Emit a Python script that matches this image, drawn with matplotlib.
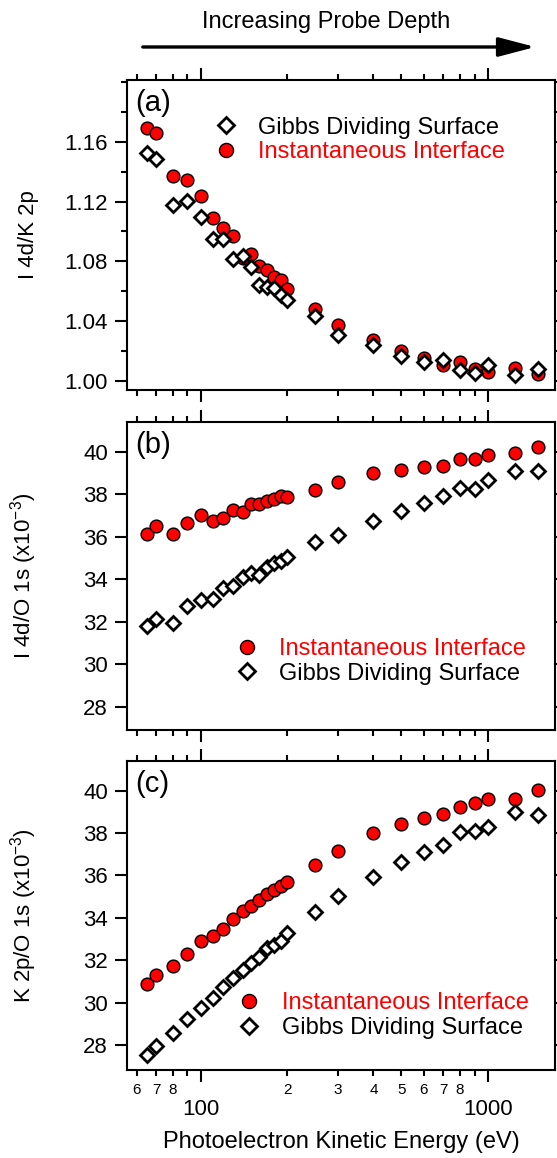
import numpy as np
import matplotlib
matplotlib.use("Agg")
import matplotlib.pyplot as plt
from matplotlib.ticker import LogLocator, FuncFormatter, MultipleLocator, NullFormatter, FixedLocator
from matplotlib.patches import FancyArrowPatch

plt.rcParams['font.family'] = ['Liberation Sans', 'DejaVu Sans']
plt.rcParams['mathtext.default'] = 'regular'

# photoelectron kinetic energy (eV)
energy = [65, 70, 80, 90, 100, 110, 120, 130, 140, 150, 160, 170, 180, 190, 200,
          250, 300, 400, 500, 600, 700, 800, 900, 1000, 1250, 1500]

# (a) I 4d / K 2p
a_inst = [1.1689, 1.1656, 1.1371, 1.1343, 1.1240, 1.1089, 1.1022, 1.0971, 1.0820, 1.0849,
          1.0767, 1.0745, 1.0696, 1.0673, 1.0616, 1.0482, 1.0378, 1.0273, 1.0204, 1.0156,
          1.0104, 1.0126, 1.0078, 1.0060, 1.0084, 1.0049]
a_gibbs = [1.1527, 1.1485, 1.1178, 1.1207, 1.1100, 1.0953, 1.0947, 1.0814, 1.0835, 1.0763,
           1.0642, 1.0629, 1.0625, 1.0578, 1.0545, 1.0433, 1.0311, 1.0240, 1.0167, 1.0130,
           1.0140, 1.0073, 1.0051, 1.0104, 1.0038, 1.0082]
a_ticks = [1.00, 1.04, 1.08, 1.12, 1.16]

# (b) I 4d / O 1s (x1e-3)
b_inst = [36.11, 36.52, 36.11, 36.66, 37.00, 36.75, 36.89, 37.24, 37.15, 37.54, 37.54,
          37.70, 37.76, 37.92, 37.89, 38.20, 38.56, 38.98, 39.15, 39.26, 39.31, 39.66,
          39.66, 39.83, 39.92, 40.20]
b_gibbs = [31.80, 32.14, 31.95, 32.74, 33.00, 33.05, 33.60, 33.68, 34.12, 34.28, 34.20,
           34.59, 34.78, 34.87, 35.06, 35.75, 36.09, 36.75, 37.21, 37.57, 37.93, 38.28,
           38.25, 38.67, 39.10, 39.10]

# (c) K 2p / O 1s (x1e-3)
c_inst = [30.88, 31.31, 31.75, 32.31, 32.92, 33.15, 33.49, 33.93, 34.34, 34.58, 34.84,
          35.11, 35.32, 35.50, 35.69, 36.50, 37.16, 37.99, 38.41, 38.70, 38.92, 39.21,
          39.40, 39.59, 39.62, 40.03]
c_gibbs = [27.53, 27.96, 28.58, 29.22, 29.74, 30.24, 30.73, 31.18, 31.54, 31.86, 32.17,
           32.57, 32.72, 32.92, 33.30, 34.29, 35.03, 35.91, 36.65, 37.12, 37.45, 38.04,
           38.10, 38.30, 39.01, 38.85]

INST = "Instantaneous Interface"
GIBBS = "Gibbs Dividing Surface"

W, H = 557, 1158
fig = plt.figure(figsize=(W / 100, H / 100), dpi=100)


def px_axes(left, top, right, bottom):
    return fig.add_axes([left / W, 1 - bottom / H, (right - left) / W, (bottom - top) / H])


ax_a = px_axes(127, 80, 555, 390)
ax_b = px_axes(127, 422, 555, 730)
ax_c = px_axes(127, 761, 555, 1070)


def minor_label(x, pos):
    d = int(round(x / 10 ** np.floor(np.log10(x) + 1e-9)))
    return str(d) if 2 <= d <= 8 else ''


def style(ax, show_x):
    ax.set_xscale('log')
    ax.set_xlim(55.4, 1716)
    for s in ax.spines.values():
        s.set_linewidth(1.5)
    ax.xaxis.set_major_locator(LogLocator(base=10, numticks=10))
    ax.xaxis.set_minor_locator(LogLocator(base=10, subs=np.arange(2, 10), numticks=20))
    ax.tick_params(axis='both', which='both', direction='out', width=1.5,
                   top=True, right=True)
    ax.tick_params(axis='both', which='major', length=8.6)
    ax.tick_params(axis='both', which='minor', length=4.3)
    ax.tick_params(axis='y', labelsize=16, pad=5)
    if show_x:
        ax.xaxis.set_major_formatter(FuncFormatter(lambda x, p: '%d' % round(x)))
        ax.xaxis.set_minor_formatter(FuncFormatter(minor_label))
        ax.tick_params(axis='x', which='major', labelsize=16, pad=12)
        ax.tick_params(axis='x', which='minor', labelsize=11, pad=5)
    else:
        ax.xaxis.set_major_formatter(NullFormatter())
        ax.xaxis.set_minor_formatter(NullFormatter())


circ = dict(marker='o', ls='none', ms=9.2, mfc='red', mec='black', mew=1.0)
diam = dict(marker='D', ls='none', ms=7.2, mfc='white', mec='black', mew=2.0)

# panel (a)
ax = ax_a
style(ax, False)
ax.plot(energy, a_inst, label=INST, zorder=3, **circ)
ax.plot(energy, a_gibbs, label=GIBBS, zorder=4, **diam)
ax.set_ylim(0.994, 1.2013)
ax.yaxis.set_major_locator(FixedLocator(a_ticks))
ax.yaxis.set_minor_locator(MultipleLocator(0.02))
ax.yaxis.set_major_formatter(FuncFormatter(lambda v, p: '%.2f' % v))
ax.set_ylabel('I 4d/K 2p', fontsize=16)
h, l = ax.get_legend_handles_labels()
leg_a = ax.legend([h[1], h[0]], [l[1], l[0]], loc='upper left', bbox_to_anchor=(0.203, 0.882),
                  frameon=False, fontsize=17, borderpad=0, borderaxespad=0,
                  handlelength=1.0, handletextpad=0.87, labelspacing=0.1, markerscale=1.1)

# panel (b)
ax = ax_b
style(ax, False)
ax.plot(energy, b_inst, label=INST, zorder=3, **circ)
ax.plot(energy, b_gibbs, label=GIBBS, zorder=4, **diam)
ax.set_ylim(26.9, 41.4)
ax.yaxis.set_major_locator(MultipleLocator(2))
ax.set_ylabel('I 4d/O 1s (x10$^{-3}$)', fontsize=16)
leg_b = ax.legend(loc='upper left', bbox_to_anchor=(0.252, 0.298),
                  frameon=False, fontsize=17, borderpad=0, borderaxespad=0,
                  handlelength=1.0, handletextpad=0.87, labelspacing=0.1, markerscale=1.1)

# panel (c)
ax = ax_c
style(ax, True)
ax.plot(energy, c_inst, label=INST, zorder=3, **circ)
ax.plot(energy, c_gibbs, label=GIBBS, zorder=4, **diam)
ax.set_ylim(26.82, 41.4)
ax.yaxis.set_major_locator(MultipleLocator(2))
ax.set_ylabel('K 2p/O 1s (x10$^{-3}$)', fontsize=16)
ax.set_xlabel('Photoelectron Kinetic Energy (eV)', fontsize=17, labelpad=8)
leg_c = ax.legend(loc='upper left', bbox_to_anchor=(0.258, 0.251),
                  frameon=False, fontsize=17, borderpad=0, borderaxespad=0,
                  handlelength=1.0, handletextpad=0.87, labelspacing=0.1, markerscale=1.1)

for leg in (leg_a, leg_b, leg_c):
    for t in leg.get_texts():
        t.set_color('red' if t.get_text() == INST else 'black')

for ax, lab in ((ax_a, '(a)'), (ax_b, '(b)'), (ax_c, '(c)')):
    ax.text(0.019, 0.97, lab, transform=ax.transAxes, fontsize=21, va='top', ha='left')
    ax.yaxis.set_label_coords(-0.205, 0.5)

# probe depth arrow
fig.text(326 / W, 1 - 22 / H, 'Increasing Probe Depth', fontsize=17, ha='center', va='center')
arrow = FancyArrowPatch((140 / W, 1 - 47 / H), (538 / W, 1 - 47 / H),
                        transform=fig.transFigure, arrowstyle='-|>,head_length=1.6,head_width=0.42',
                        mutation_scale=14, lw=2.4, color='black')
fig.add_artist(arrow)

fig.savefig('out.png', dpi=100)
